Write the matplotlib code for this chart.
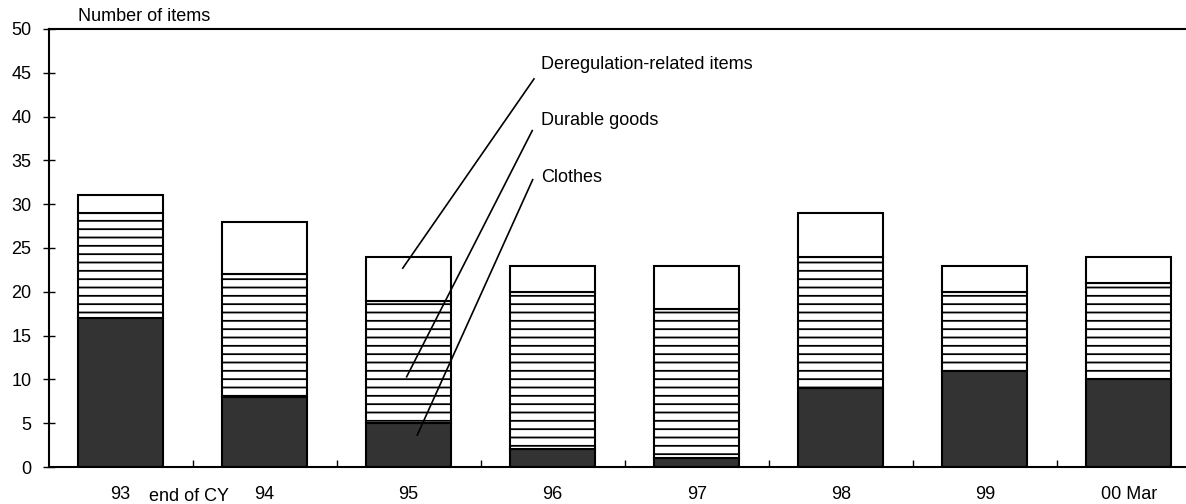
import numpy as np
import matplotlib
matplotlib.use("Agg")
import matplotlib.pyplot as plt

plt.rcParams['font.family'] = ['Liberation Sans', 'DejaVu Sans']
plt.rcParams['hatch.linewidth'] = 1.3

# --- data (number of items, end of calendar year) ---
years = ['93', '94', '95', '96', '97', '98', '99', '00 Mar']
clothes = [17, 8, 5, 2, 1, 9, 11, 10]
durable = [12, 14, 14, 18, 17, 15, 9, 11]
dereg = [2, 6, 5, 3, 5, 5, 3, 3]

FS = 13

fig = plt.figure(figsize=(11.86, 5.04), dpi=100)
ax = fig.add_axes([0.0409, 0.0734, 0.9591, 0.8691])

x = np.arange(len(years))
clothes = np.array(clothes)
durable = np.array(durable)
dereg = np.array(dereg)

W = 0.59
ax.bar(x, clothes, W, color='#333333', edgecolor='black', linewidth=1.5)
ax.bar(x, durable, W, bottom=clothes, color='white', edgecolor='black',
       linewidth=1.5, hatch='--')
ax.bar(x, dereg, W, bottom=clothes + durable, color='white',
       edgecolor='black', linewidth=1.5)

ax.set_xlim(-0.5, 7.396)
ax.set_ylim(0, 50)
ax.set_yticks(range(0, 51, 5))
ax.tick_params(axis='y', direction='inout', length=8.6, width=1, pad=8,
               labelsize=FS)

ax.set_xticks(x)
ax.set_xticklabels(years, fontsize=FS)
ax.tick_params(axis='x', which='major', length=0, pad=14)
ax.set_xticks(np.arange(0.5, 7.5, 1), minor=True)
ax.tick_params(axis='x', which='minor', direction='in', length=5, width=1)

for s in ['left', 'bottom', 'top']:
    ax.spines[s].set_linewidth(1.5)
ax.spines['right'].set_visible(False)

ax.text(0.026, 1.0274, 'Number of items', transform=ax.transAxes,
        fontsize=FS, ha='left', va='center')
ax.annotate('end of CY', xy=(0.472, 0), xycoords=('data', 'axes fraction'),
            xytext=(0, -21), textcoords='offset points',
            ha='center', va='center', fontsize=FS)

# callout labels with leader lines
labels = ['Deregulation-related items', 'Durable goods', 'Clothes']
text_y = [45.9, 39.5, 33.1]
line_start = [(2.870, 44.3), (2.858, 38.4), (2.861, 32.8)]
line_end = [(1.959, 22.7), (1.986, 10.3), (2.06, 3.65)]
for lab, ty, (x0, y0), (x1, y1) in zip(labels, text_y, line_start, line_end):
    ax.text(2.918, ty, lab, fontsize=FS, ha='left', va='center')
    ax.plot([x0, x1], [y0, y1], color='black', linewidth=1.2)

fig.savefig('out.png', dpi=100)
